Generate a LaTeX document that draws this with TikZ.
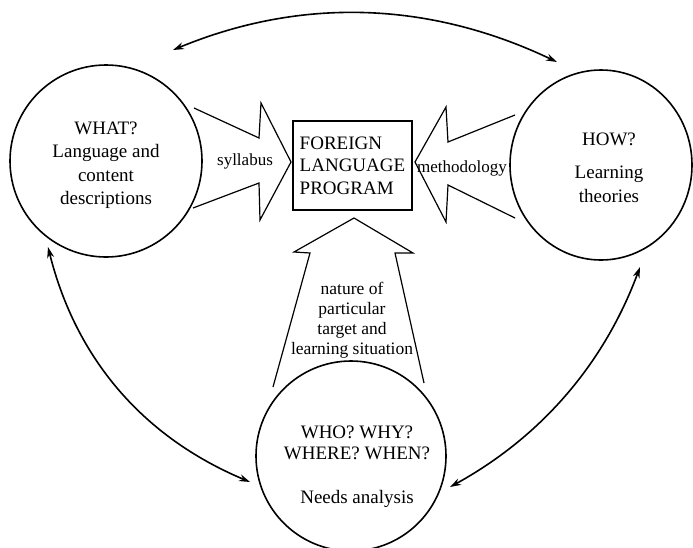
\documentclass[tikz,border=0pt]{standalone}
\usepackage{fontspec}
\setmainfont{Liberation Serif}
\usetikzlibrary{arrows.meta,shapes.geometric}

\begin{document}
\begin{tikzpicture}[x=1pt,y=-1pt,
  ring/.style={draw,line width=1.6pt,circle,inner sep=0pt},
  oval/.style={draw,line width=1.6pt,ellipse,inner sep=0pt},
  big/.style={font=\fontsize{19}{23.5}\selectfont,align=center,inner sep=0pt},
  small/.style={font=\fontsize{17}{20}\selectfont,align=center,inner sep=0pt},
  block/.style={line width=1.2pt,line join=miter},
  prog/.style={draw,line width=1.5pt,minimum width=119pt,minimum height=89pt,
    align=left,inner sep=0pt,font=\fontsize{19}{22.5}\selectfont},
  link/.style={line width=1.6pt,
    {Stealth[length=11pt,width=7pt]}-{Stealth[length=11pt,width=7pt]}}]
\useasboundingbox (0,0) rectangle (693,547);
\clip (0,0) rectangle (693,547);

% the three circles and their texts
\node[ring,minimum size=192pt] (what) at (106,161) {};
\node[big] (whatlbl) at (106,165) {WHAT?\\Language and\\content\\descriptions};

\node[oval,minimum width=182pt,minimum height=190pt] (how) at (601,165) {};
\node[big] (howlbl) at (609,168) {HOW?\\[9.5pt]Learning\\theories};

\node[ring,minimum size=190pt] (who) at (351,456) {};
\node[big,font=\fontsize{19}{20.5}\selectfont] (wholbl) at (357,467)
  {WHO? WHY?\\WHERE? WHEN?\\[24pt]Needs analysis};

% the program box in the middle
\node[prog] (prog) at (352.5,165.5) {FOREIGN\\LANGUAGE\\PROGRAM};

% broad arrows feeding the program
\draw[block] (194,108) -- (259,138) -- (261,103) -- (291,162)
  -- (260,220) -- (259,183) -- (193,208);
\draw[block] (515,115) -- (448,142) -- (446,107) -- (415,162)
  -- (446,222) -- (448,185) -- (515,218);
\draw[block] (273,387) -- (310,253) -- (294,252) -- (354,218)
  -- (413,253) -- (395,253) -- (424,383);

\node[small] (syl) at (245,161) {syllabus};
\node[small] (meth) at (462,168) {methodology};
\node[small,font=\fontsize{17.5}{20}\selectfont] (nature) at (352,320)
  {nature of\\particular\\target and\\learning situation};

% two-way links between the circles
\coordinate (t1) at (173,50);
\coordinate (t2) at (557,62);
\draw[link] (t1) .. controls (301,-3) and (429,1) .. (t2);

\coordinate (l1) at (48,247);
\coordinate (l2) at (250,482);
\draw[link] (l1) .. controls (76,359) and (143,437) .. (l2);

\coordinate (r1) at (640,267);
\coordinate (r2) at (450,487);
\draw[link] (r1) .. controls (604,364) and (541,437) .. (r2);
\end{tikzpicture}
\end{document}
